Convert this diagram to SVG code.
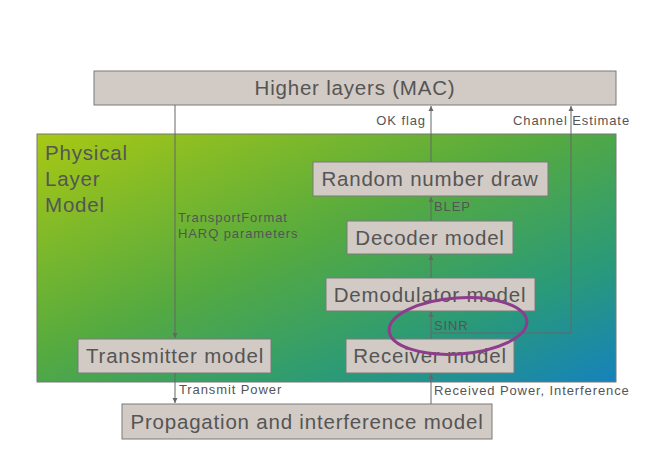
<svg xmlns="http://www.w3.org/2000/svg" width="650" height="460" viewBox="0 0 650 460">
<defs>
<linearGradient id="phy" x1="0" y1="0" x2="1" y2="1">
<stop offset="0" stop-color="#a8c814"/>
<stop offset="0.45" stop-color="#55aa40"/>
<stop offset="0.75" stop-color="#2a9a78"/>
<stop offset="1" stop-color="#1582bc"/>
</linearGradient>
<marker id="ah" markerWidth="6" markerHeight="6" refX="5" refY="3" orient="auto" markerUnits="userSpaceOnUse">
<path d="M0,0.5 L5,3 L0,5.5 z" fill="#666"/>
</marker>
<style>
.box{fill:#d2cac4;stroke:#7a7a7a;stroke-width:1}
.bt{font-family:"Liberation Sans",Arial,sans-serif;font-size:20.5px;letter-spacing:0.8px;fill:#555;text-anchor:middle}
.pl{font-family:"Liberation Sans",Arial,sans-serif;font-size:20.5px;letter-spacing:0.8px;fill:#555}
.lbl{font-family:"Liberation Sans",Arial,sans-serif;font-size:13px;letter-spacing:0.9px;fill:#555}
.ln{stroke:#666;stroke-width:1;fill:none}
</style>
</defs>
<rect width="650" height="460" fill="#ffffff"/>
<g id="physical-layer">
<rect x="37" y="134" width="579" height="248" fill="url(#phy)" stroke="#777" stroke-width="1"/>
<text class="pl" x="45" y="160">Physical</text>
<text class="pl" x="45" y="186">Layer</text>
<text class="pl" x="45" y="212">Model</text>
</g>
<g id="higher-layers">
<rect class="box" x="94" y="71" width="522" height="34"/>
<text class="bt" x="355" y="95">Higher layers (MAC)</text>
</g>
<g id="random-number-draw">
<rect class="box" x="313" y="162" width="235" height="34"/>
<text class="bt" x="430" y="186">Random number draw</text>
</g>
<g id="decoder-model">
<rect class="box" x="347" y="221" width="166" height="33"/>
<text class="bt" x="430" y="245">Decoder model</text>
</g>
<g id="demodulator-model">
<rect class="box" x="326" y="278" width="209" height="33"/>
<text class="bt" x="430" y="302">Demodulator model</text>
</g>
<g id="receiver-model">
<rect class="box" x="346" y="339" width="168" height="34"/>
<text class="bt" x="430" y="363">Receiver model</text>
</g>
<g id="transmitter-model">
<rect class="box" x="78" y="339" width="193" height="34"/>
<text class="bt" x="175" y="363">Transmitter model</text>
</g>
<g id="propagation-model">
<rect class="box" x="122" y="404" width="370" height="35"/>
<text class="bt" x="307" y="429">Propagation and interference model</text>
</g>
<g id="connectors">
<line class="ln" x1="175" y1="105" x2="175" y2="338" marker-end="url(#ah)"/>
<line class="ln" x1="175" y1="373" x2="175" y2="403" marker-end="url(#ah)"/>
<line class="ln" x1="431" y1="404" x2="431" y2="374" marker-end="url(#ah)"/>
<line class="ln" x1="431" y1="339" x2="431" y2="312" marker-end="url(#ah)"/>
<line class="ln" x1="431" y1="278" x2="431" y2="255" marker-end="url(#ah)"/>
<line class="ln" x1="431" y1="221" x2="431" y2="197" marker-end="url(#ah)"/>
<line class="ln" x1="431" y1="162" x2="431" y2="106" marker-end="url(#ah)"/>
<polyline class="ln" points="431,333 571,333 571,106" marker-end="url(#ah)"/>
<text class="lbl" x="178" y="222">TransportFormat</text>
<text class="lbl" x="178" y="238">HARQ parameters</text>
<text class="lbl" x="179" y="394">Transmit Power</text>
<text class="lbl" x="434" y="395">Received Power, Interference</text>
<text class="lbl" x="434" y="330">SINR</text>
<text class="lbl" x="434" y="211">BLEP</text>
<text class="lbl" x="426" y="125" text-anchor="end">OK flag</text>
<text class="lbl" x="513" y="125">Channel Estimate</text>
</g>
<ellipse cx="458" cy="326" rx="69" ry="28" transform="rotate(-4 458 326)" fill="none" stroke="#8e3c8c" stroke-width="3"/>
</svg>
